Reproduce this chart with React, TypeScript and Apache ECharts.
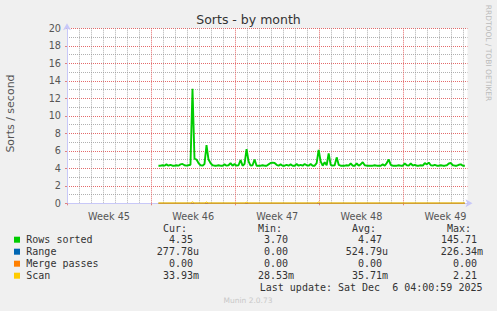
import { useEffect, useRef } from "react";
import * as echarts from "echarts";

const TITLE = "Sorts - by month";
const Y_AXIS_NAME = "Sorts / second";
const WATERMARK = "RRDTOOL / TOBI OETIKER";
const FOOTER = "Munin 2.0.73";
const WEEK_LABELS = ["Week 45", "Week 46", "Week 47", "Week 48", "Week 49"];
const WEEK_LABEL_DAYS = [3.5, 10.5, 17.5, 24.5, 31.5];
const X_MIN_DAY = 0;
const X_MAX_DAY = 33.33;
const Y_MIN = 0;
const Y_MAX = 20;
const START_DAY = 7.61;
const STEP_DAY = 1 / 6;

const ROWS_SORTED = [
  4.3, 4.3, 4.35, 4.3, 4.45, 4.3, 4.4, 4.3, 4.3, 4.35,
  4.3, 4.45, 4.5, 4.35, 4.3, 4.35, 4.4, 13.1, 5.1, 5.0,
  4.6, 4.35, 4.3, 4.5, 6.65, 5.0, 4.6, 4.35, 4.3, 4.3,
  4.35, 4.3, 4.3, 4.45, 4.3, 4.35, 4.6, 4.3, 4.5, 4.3,
  4.35, 4.95, 4.3, 4.5, 6.2, 4.8, 4.3, 4.35, 5.0, 4.3,
  4.3, 4.3, 4.35, 4.3, 4.3, 4.45, 4.6, 4.65, 4.6, 4.4,
  4.3, 4.45, 4.3, 4.3, 4.4, 4.3, 4.45, 4.3, 4.3, 4.5,
  4.3, 4.4, 4.3, 4.5, 4.35, 4.3, 4.5, 4.3, 4.3, 4.6,
  6.1, 4.8, 4.3, 4.7, 4.35, 5.7, 4.4, 4.3, 4.35, 5.25,
  4.4, 4.3, 4.3, 4.3, 4.35, 4.3, 4.55, 4.3, 4.3, 4.55,
  4.3, 4.45, 4.7, 4.35, 4.3, 4.3, 4.3, 4.3, 4.35, 4.3,
  4.3, 4.3, 4.45, 4.3, 4.6, 5.0, 4.4, 4.3, 4.3, 4.3,
  4.35, 4.3, 4.3, 4.55, 4.35, 4.3, 4.55, 4.3, 4.4, 4.3,
  4.3, 4.35, 4.3, 4.6, 4.45, 4.65, 4.35, 4.3, 4.4, 4.3,
  4.3, 4.35, 4.3, 4.3, 4.35, 4.55, 4.6, 4.35, 4.3, 4.3,
  4.4, 4.45, 4.3, 4.3,
];

// [sample index, value]
const RANGE_POINTS = [[0, 0.0003], [153, 0.0003]];
const MERGE_POINTS = [[0, 0], [153, 0]];
const SCAN_POINTS = [
  [0, 0.034], [16, 0.034], [17, 0.17], [18, 0.034], [23, 0.034], [24, 0.15],
  [25, 0.034], [43, 0.034], [44, 0.12], [45, 0.034], [79, 0.034], [80, 0.15],
  [81, 0.034], [153, 0.034],
];

const LEGEND_NAMES = ["Rows sorted", "Range", "Merge passes", "Scan"];
const LEGEND_COLORS = ["#00cc00", "#0066b3", "#ff8000", "#ffcc00"];
const COL_HEADERS = ["Cur:", "Min:", "Avg:", "Max:"];
const CUR_VALUES = ["4.35", "277.78u", "0.00", "33.93m"];
const MIN_VALUES = ["3.70", "0.00", "0.00", "28.53m"];
const AVG_VALUES = ["4.47", "524.79u", "0.00", "35.71m"];
const MAX_VALUES = ["145.71", "226.34m", "0.00", "2.21"];
const LAST_UPDATE = "Last update: Sat Dec  6 04:00:59 2025";

const toDay = (i: number) => START_DAY + i * STEP_DAY;

export default function App() {
  const ref = useRef<HTMLDivElement>(null);
  useEffect(() => {
    document.body.style.margin = "0";
    const chart = echarts.init(ref.current!, null, { renderer: "svg" });
    const mono = "DejaVu Sans Mono";
    const sans = "DejaVu Sans";
    const txtColor = "#333";
    const colRight = [199, 294, 388, 483];
    const rowY = [239.7, 251.7, 263.7, 275.7];
    const columns = [CUR_VALUES, MIN_VALUES, AVG_VALUES, MAX_VALUES];

    const graphics: any[] = [
      {
        type: "text",
        style: { text: TITLE, x: 248.5, y: 19, textAlign: "center", textVerticalAlign: "middle", font: `12.5px ${sans}`, fill: "#333" },
      },
      {
        type: "text",
        x: 10, y: 113.5, rotation: Math.PI / 2,
        style: { text: Y_AXIS_NAME, x: 0, y: 0, textAlign: "center", textVerticalAlign: "middle", font: `11px ${sans}`, fill: "#555" },
      },
      {
        type: "text",
        x: 488.5, y: 53, rotation: -Math.PI / 2,
        style: { text: WATERMARK, x: 0, y: 0, textAlign: "center", textVerticalAlign: "middle", font: `7.5px ${sans}`, fill: "#bbb" },
      },
      {
        type: "text",
        style: { text: FOOTER, x: 248, y: 300.5, textAlign: "center", textVerticalAlign: "middle", font: `7.5px ${sans}`, fill: "#c8c8c8" },
      },
      {
        type: "text",
        style: { text: LAST_UPDATE, x: 482.5, y: 287.3, textAlign: "right", textVerticalAlign: "middle", font: `10px ${mono}`, fill: txtColor },
      },
    ];
    COL_HEADERS.forEach((h, c) => {
      graphics.push({
        type: "text",
        style: { text: h, x: colRight[c] - 12, y: 228.3, textAlign: "right", textVerticalAlign: "middle", font: `10px ${mono}`, fill: txtColor },
      });
    });
    LEGEND_NAMES.forEach((name, r) => {
      graphics.push({
        type: "rect",
        shape: { x: 14, y: rowY[r] - 3, width: 6, height: 6 },
        style: { fill: LEGEND_COLORS[r] },
      });
      graphics.push({
        type: "text",
        style: { text: name, x: 26.3, y: rowY[r], textAlign: "left", textVerticalAlign: "middle", font: `10px ${mono}`, fill: txtColor },
      });
      columns.forEach((col, c) => {
        const s = col[r];
        const hasUnit = /[a-zA-Z]$/.test(s);
        graphics.push({
          type: "text",
          style: { text: s, x: hasUnit ? colRight[c] : colRight[c] - 6, y: rowY[r], textAlign: "right", textVerticalAlign: "middle", font: `10px ${mono}`, fill: txtColor },
        });
      });
    });

    const dotted = (color: string) => ({ color, width: 1, type: [1, 1] as any });

    chart.setOption({
      animation: false,
      backgroundColor: "#f0f0f0",
      grid: {
        left: 67, top: 28.3, right: 29.5, bottom: 107.7,
        show: true, backgroundColor: "#ffffff", borderWidth: 0,
      },
      xAxis: {
        type: "value",
        min: X_MIN_DAY, max: X_MAX_DAY, interval: 7,
        axisLine: {
          show: true, onZero: false,
          lineStyle: { color: "#c8c8f8", width: 1 },
          symbol: ["none", "arrow"], symbolSize: [6, 7], symbolOffset: [0, 5],
        },
        axisTick: { show: true, length: 2, lineStyle: { color: "#e08080" } },
        axisLabel: {
          customValues: WEEK_LABEL_DAYS,
          formatter: (v: number) => {
            const idx = WEEK_LABEL_DAYS.findIndex((d) => Math.abs(d - v) < 0.01);
            return idx >= 0 ? WEEK_LABELS[idx] : "";
          },
          color: "#555", fontFamily: sans, fontSize: 9.7, margin: 8,
        },
        splitLine: { show: true, showMaxLine: false, lineStyle: dotted("rgba(225,90,90,0.9)") },
        minorTick: { show: false, splitNumber: 7 },
        minorSplitLine: { show: true, lineStyle: dotted("rgba(150,150,150,0.75)") },
      },
      yAxis: {
        type: "value",
        min: Y_MIN, max: Y_MAX, interval: 2,
        axisLine: {
          show: true,
          lineStyle: { color: "#c8c8f8", width: 1 },
          symbol: ["none", "arrow"], symbolSize: [6, 7], symbolOffset: [0, 5],
        },
        axisTick: { show: true, length: 2, lineStyle: { color: "#e08080" } },
        axisLabel: { color: "#555", fontFamily: sans, fontSize: 9.7, margin: 6 },
        splitLine: { show: true, lineStyle: dotted("rgba(225,90,90,0.9)") },
        minorTick: { show: false, splitNumber: 2 },
        minorSplitLine: { show: true, lineStyle: dotted("rgba(150,150,150,0.75)") },
      },
      series: [
        {
          name: LEGEND_NAMES[0], type: "line", showSymbol: false,
          data: ROWS_SORTED.map((v, i) => [toDay(i), v]),
          lineStyle: { color: LEGEND_COLORS[0], width: 1.9 }, z: 3,
        },
        {
          name: LEGEND_NAMES[1], type: "line", showSymbol: false,
          data: RANGE_POINTS.map(([i, v]) => [toDay(i), v]),
          lineStyle: { color: LEGEND_COLORS[1], width: 1 }, z: 4,
        },
        {
          name: LEGEND_NAMES[2], type: "line", showSymbol: false,
          data: MERGE_POINTS.map(([i, v]) => [toDay(i), v]),
          lineStyle: { color: LEGEND_COLORS[2], width: 1 }, z: 5,
        },
        {
          name: LEGEND_NAMES[3], type: "line", showSymbol: false,
          data: SCAN_POINTS.map(([i, v]) => [toDay(i), v]),
          lineStyle: { color: LEGEND_COLORS[3], width: 1 }, z: 6,
        },
      ],
      graphic: graphics,
    });
    return () => chart.dispose();
  }, []);
  return <div ref={ref} style={{ position: "fixed", left: 0, top: 0, width: 497, height: 311 }} />;
}
